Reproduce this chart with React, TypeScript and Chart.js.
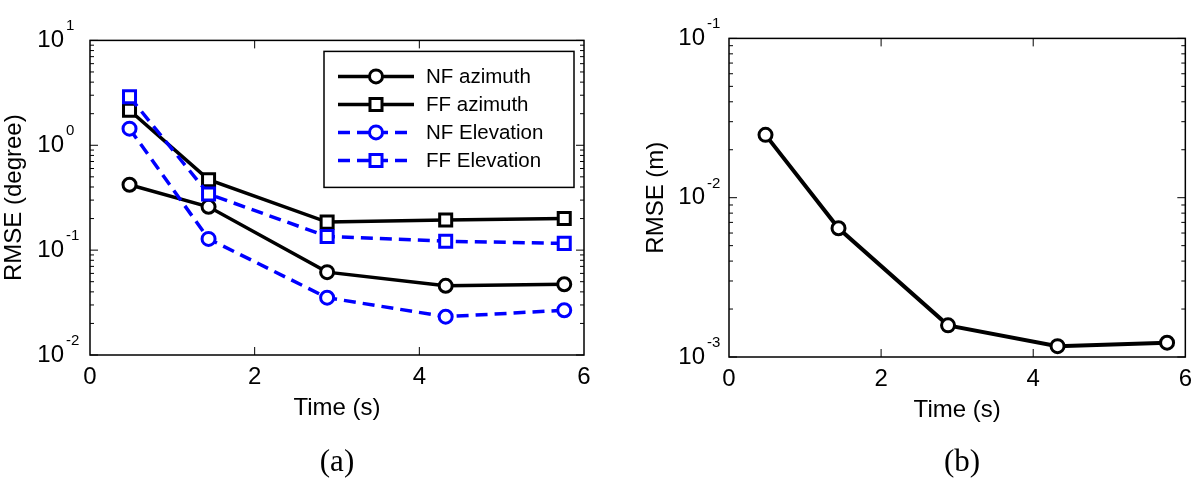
import React, { useEffect, useRef } from 'react';
import { Chart, registerables } from 'chart.js';

Chart.register(...registerables);

// ---------- data ----------
const timeS = [0.48, 1.44, 2.88, 4.32, 5.76];
const nfAzimuth = [0.42, 0.259, 0.0617, 0.0457, 0.0473];
const ffAzimuth = [2.16, 0.47, 0.185, 0.194, 0.2];
const nfElevation = [1.44, 0.128, 0.0352, 0.0232, 0.0267];
const ffElevation = [2.9, 0.343, 0.135, 0.1216, 0.116];
const rangeRmse = [0.0248, 0.00643, 0.00158, 0.00117, 0.00123];

const seriesLabels = ['NF azimuth', 'FF azimuth', 'NF Elevation', 'FF Elevation'];
const xTicks = [0, 2, 4, 6];
const leftYTicks = [0.01, 0.1, 1, 10];
const rightYTicks = [0.001, 0.01, 0.1];
const xTitle = 'Time (s)';
const leftYTitle = 'RMSE (degree)';
const rightYTitle = 'RMSE (m)';
const panelLabels = ['(a)', '(b)'];

// ---------- styles ----------
const FONT = "'Liberation Sans', Arial, Helvetica, sans-serif";
const SERIF = "'Liberation Serif', 'Times New Roman', Times, serif";
const BLACK = '#000000';
const BLUE = '#0000ff';

const pts = (ys: number[]) => timeS.map((x, i) => ({ x, y: ys[i] }));

function ds(label: string, ys: number[], color: string, dashed: boolean, style: string, order: number, width = 3.5) {
  return {
    label,
    data: pts(ys),
    borderColor: color,
    backgroundColor: color,
    borderWidth: width,
    borderDash: dashed ? [12, 7] : [],
    pointStyle: style,
    pointRadius: style === 'rect' ? 8.5 : 6.5,
    pointBorderWidth: 3,
    pointBorderColor: color,
    pointBackgroundColor: '#ffffff',
    tension: 0,
    order,
    clip: false as any,
  };
}

function line(ctx: CanvasRenderingContext2D, x1: number, y1: number, x2: number, y2: number) {
  ctx.beginPath();
  ctx.moveTo(x1, y1);
  ctx.lineTo(x2, y2);
  ctx.stroke();
}

const matlabFrame = {
  id: 'matlabFrame',
  afterDraw(chart: any, _args: any, opts: any) {
    const { ctx, chartArea: a, scales } = chart;
    const ys = scales.y;
    const xs = scales.x;
    ctx.save();
    ctx.strokeStyle = BLACK;
    ctx.lineWidth = 1.5;
    ctx.setLineDash([]);
    ctx.strokeRect(a.left, a.top, a.right - a.left, a.bottom - a.top);
    ctx.lineWidth = 1;
    const e0 = Math.round(Math.log10(ys.min));
    const e1 = Math.round(Math.log10(ys.max));
    for (let e = e0; e <= e1; e++) {
      for (let k = 1; k <= 9; k++) {
        const v = k * Math.pow(10, e);
        if (v > ys.max * 1.0001) break;
        const p = ys.getPixelForValue(v);
        const len = k === 1 ? 8 : 4;
        line(ctx, a.left, p, a.left + len, p);
        line(ctx, a.right, p, a.right - len, p);
      }
    }
    for (const v of xTicks) {
      if (v <= xs.min || v >= xs.max) continue;
      const p = xs.getPixelForValue(v);
      line(ctx, p, a.bottom, p, a.bottom - 8);
      line(ctx, p, a.top, p, a.top + 8);
    }
    // exponents of the decade labels
    ctx.fillStyle = BLACK;
    ctx.font = `15px ${FONT}`;
    ctx.textAlign = 'left';
    ctx.textBaseline = 'alphabetic';
    for (const t of ys.ticks) {
      const p = ys.getPixelForValue(t.value);
      const e = Math.round(Math.log10(t.value));
      ctx.fillText(String(e), a.left - opts.tickPad + 2, p - 10);
    }
    ctx.restore();
  },
};

const legendBox = {
  id: 'legendBox',
  afterDraw(chart: any, _args: any, opts: any) {
    if (!opts.show) return;
    const { ctx, chartArea: a } = chart;
    const w = 250;
    const h = 136;
    const right = a.right - 10;
    const left = right - w;
    const top = a.top + 11;
    ctx.save();
    ctx.fillStyle = '#ffffff';
    ctx.fillRect(left, top, w, h);
    ctx.strokeStyle = BLACK;
    ctx.lineWidth = 1.5;
    ctx.strokeRect(left, top, w, h);
    chart.data.datasets.forEach((d: any, i: number) => {
      const y = top + 25 + i * 28;
      ctx.strokeStyle = d.borderColor;
      ctx.lineWidth = d.borderWidth;
      ctx.setLineDash(d.borderDash || []);
      line(ctx, left + 14, y, left + 90, y);
      ctx.setLineDash([]);
      const cx = left + 52;
      ctx.lineWidth = d.pointBorderWidth;
      ctx.fillStyle = d.pointBackgroundColor;
      ctx.beginPath();
      if (d.pointStyle === 'rect') {
        const s = d.pointRadius * Math.SQRT1_2;
        ctx.rect(cx - s, y - s, 2 * s, 2 * s);
      } else {
        ctx.arc(cx, y, d.pointRadius, 0, Math.PI * 2);
      }
      ctx.fill();
      ctx.stroke();
      ctx.fillStyle = BLACK;
      ctx.font = `20.5px ${FONT}`;
      ctx.textAlign = 'left';
      ctx.textBaseline = 'middle';
      ctx.fillText(d.label, left + 102, y + 1);
    });
    ctx.restore();
  },
};

interface PanelOpts {
  datasets: any[];
  yMin: number;
  yMax: number;
  yTicks: number[];
  yTitle: string;
  yWidth: number;
  yTitlePad: number;
  yTickPad: number;
  padRight: number;
  xHeight: number;
  padBottom: number;
  legend: boolean;
}

function makeConfig(o: PanelOpts): any {
  const tickFont = { family: FONT, size: 24 };
  const titleFont = { family: FONT, size: 24 };
  return {
    type: 'line',
    data: { datasets: o.datasets },
    options: {
      responsive: false,
      animation: false,
      devicePixelRatio: 1,
      events: [],
      layout: { padding: { top: 27, left: 0, right: o.padRight, bottom: o.padBottom } },
      plugins: {
        legend: { display: false },
        tooltip: { enabled: false },
        title: { display: false },
        legendBox: { show: o.legend },
        matlabFrame: { tickPad: o.yTickPad },
      },
      scales: {
        x: {
          type: 'linear',
          min: 0,
          max: 6,
          offset: false,
          afterBuildTicks: (s: any) => {
            s.ticks = xTicks.map((v) => ({ value: v }));
          },
          ticks: { font: tickFont, color: BLACK, padding: 8, autoSkip: false, maxRotation: 0 },
          grid: { display: false, drawTicks: false },
          border: { display: false },
          title: { display: true, text: xTitle, font: titleFont, color: BLACK, padding: { top: 0, bottom: 0 } },
          afterFit: (s: any) => {
            s.height = o.xHeight;
          },
        },
        y: {
          type: 'logarithmic',
          min: o.yMin,
          max: o.yMax,
          afterBuildTicks: (s: any) => {
            s.ticks = o.yTicks.map((v) => ({ value: v }));
          },
          ticks: { font: tickFont, color: BLACK, padding: o.yTickPad, autoSkip: false, callback: () => '10' },
          grid: { display: false, drawTicks: false },
          border: { display: false },
          title: { display: true, text: o.yTitle, font: titleFont, color: BLACK, padding: { top: o.yTitlePad, bottom: 0 } },
          afterFit: (s: any) => {
            s.width = o.yWidth;
          },
        },
      },
    },
    plugins: [matlabFrame, legendBox],
  };
}

function Panel({ config, left }: { config: () => any; left: number }) {
  const ref = useRef<HTMLCanvasElement>(null);
  useEffect(() => {
    const chart = new Chart(ref.current as HTMLCanvasElement, config());
    return () => chart.destroy();
  }, []);
  return (
    <canvas
      ref={ref}
      width={600}
      height={485}
      style={{ position: 'absolute', left, top: 0, width: 600, height: 485 }}
    />
  );
}

const leftConfig = () =>
  makeConfig({
    datasets: [
      ds(seriesLabels[0], nfAzimuth, BLACK, false, 'circle', 4),
      ds(seriesLabels[1], ffAzimuth, BLACK, false, 'rect', 3),
      ds(seriesLabels[2], nfElevation, BLUE, true, 'circle', 2),
      ds(seriesLabels[3], ffElevation, BLUE, true, 'rect', 1),
    ],
    yMin: 0.01,
    yMax: 10,
    yTicks: leftYTicks,
    yTitle: leftYTitle,
    yWidth: 90,
    yTitlePad: 0,
    yTickPad: 26,
    padRight: 16,
    xHeight: 68,
    padBottom: 62,
    legend: true,
  });

const rightConfig = () =>
  makeConfig({
    datasets: [ds('Range RMSE', rangeRmse, BLACK, false, 'circle', 1, 4)],
    yMin: 0.001,
    yMax: 0.1,
    yTicks: rightYTicks,
    yTitle: rightYTitle,
    yWidth: 129,
    yTitlePad: 42,
    yTickPad: 24,
    padRight: 5,
    xHeight: 68,
    padBottom: 60,
    legend: false,
  });

const labelStyle = (center: number): React.CSSProperties => ({
  position: 'absolute',
  left: center - 100,
  top: 445,
  width: 200,
  textAlign: 'center',
  fontFamily: SERIF,
  fontSize: 31,
  lineHeight: '31px',
  color: '#000',
});

export default function App() {
  return (
    <div style={{ position: 'absolute', left: 0, top: 0, width: 1200, height: 485, background: '#fff', overflow: 'hidden' }}>
      <Panel config={leftConfig} left={0} />
      <Panel config={rightConfig} left={600} />
      <div style={labelStyle(337)}>{panelLabels[0]}</div>
      <div style={labelStyle(962)}>{panelLabels[1]}</div>
    </div>
  );
}
